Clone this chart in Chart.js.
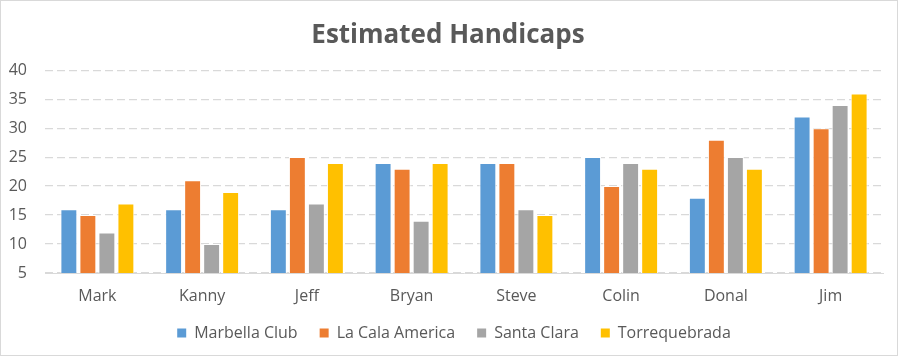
<!DOCTYPE html>
<html><head><meta charset="utf-8">
<script src="https://cdn.jsdelivr.net/npm/chart.js@4"></script>
<style>
html,body{margin:0;padding:0;background:#fff;}
#wrap{position:absolute;left:0;top:0;width:896px;height:354px;border:1px solid #d9d9d9;}
canvas{display:block;}
</style></head>
<body><div id="wrap"><canvas id="c" width="896" height="354"></canvas></div>
<script>
const categories = ["Mark","Kanny","Jeff","Bryan","Steve","Colin","Donal","Jim"];
const seriesNames = ["Marbella Club","La Cala America","Santa Clara","Torrequebrada"];
const marbellaClub = [16,16,16,24,24,25,18,32];
const laCalaAmerica = [15,21,25,23,24,20,28,30];
const santaClara = [12,10,17,14,16,24,25,34];
const torrequebrada = [17,19,24,24,15,23,23,36];
const colors = ["#5b9bd5","#ed7d31","#a5a5a5","#ffc000"];
const FONT = "'Open Sans', Lato, sans-serif";
const values = [marbellaClub, laCalaAmerica, santaClara, torrequebrada];
const shiftBlocks = {
  id: 'shiftBlocks',
  afterLayout(chart) {
    if (chart.legend) { chart.legend.left += 12; chart.legend.right += 12; }
    if (chart.titleBlock) { chart.titleBlock.left += 6; chart.titleBlock.right += 6; }
    if (chart.scales.x) { chart.scales.x.bottom += 12; }
  }
};
new Chart(document.getElementById('c'), {
  type: 'bar',
  data: {
    labels: categories,
    datasets: seriesNames.map((n,i)=>({
      label: n, data: values[i], backgroundColor: colors[i],
      borderColor: '#ffffff', borderWidth: {top:1,left:1,right:1,bottom:0},
      categoryPercentage: 0.726, barPercentage: 0.89
    }))
  },
  plugins: [shiftBlocks],
  options: {
    responsive: false, animation: false,
    layout: {padding: {left: 0, right: 14, top: 4, bottom: 4}},
    plugins: {
      title: {display: true, text: 'Estimated Handicaps', color: '#595959',
        font: {family: FONT, size: 26, weight: 'bold'}, padding: {top: 15, bottom: 19}},
      legend: {position: 'bottom', labels: {color: '#595959', font: {family: FONT, size: 16},
        boxWidth: 9, boxHeight: 9, padding: 22,
        generateLabels: (chart) => chart.data.datasets.map((d, i) => ({
          text: d.label, fillStyle: d.backgroundColor, strokeStyle: d.backgroundColor,
          lineWidth: 0, fontColor: '#595959', datasetIndex: i, hidden: false
        }))}},
      tooltip: {enabled: false}
    },
    scales: {
      x: {grid: {display: false, drawTicks: false},
        border: {display: true, color: '#d9d9d9'},
        afterFit: (s) => { s.height = 30; },
        ticks: {color: '#595959', font: {family: FONT, size: 16}, padding: 14}},
      y: {min: 5, max: 40,
        grid: {color: '#d9d9d9', drawTicks: false, lineWidth: 1.2},
        border: {display: false, dash: [8,4]},
        afterFit: (s) => { s.width = 44; },
        ticks: {stepSize: 5, color: '#595959', font: {family: FONT, size: 16}, padding: 18}}
    }
  }
});
</script></body></html>
